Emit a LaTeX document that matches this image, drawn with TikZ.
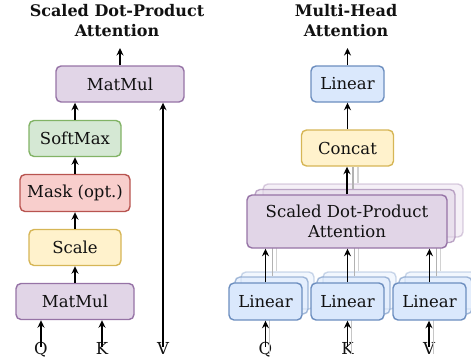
\documentclass[tikz,border=0pt]{standalone}
\usepackage{fontspec}
\setmainfont{DejaVu Serif}
\usetikzlibrary{arrows.meta}
\definecolor{pf}{HTML}{E1D5E7}\definecolor{pd}{HTML}{9673A6}
\definecolor{gf}{HTML}{D5E8D4}\definecolor{gd}{HTML}{82B366}
\definecolor{rf}{HTML}{F8CECC}\definecolor{rd}{HTML}{B85450}
\definecolor{yf}{HTML}{FFF2CC}\definecolor{yd}{HTML}{D6B656}
\definecolor{bf}{HTML}{DAE8FC}\definecolor{bd}{HTML}{6C8EBF}
\definecolor{txt}{HTML}{111111}
\begin{document}
\begin{tikzpicture}[x=1pt,y=-1pt,
  box/.style={draw, rounded corners=5pt, line width=1.4pt, minimum height=36pt,
    inner sep=0pt, align=center, text=txt, font=\fontsize{16.5}{20}\selectfont},
  purp/.style={box, fill=pf, draw=pd},
  grn/.style={box, fill=gf, draw=gd},
  red/.style={box, fill=rf, draw=rd},
  yel/.style={box, fill=yf, draw=yd},
  blu/.style={box, fill=bf, draw=bd},
  ghost1/.style={opacity=0.6},
  ghost2/.style={opacity=0.35},
  lbl/.style={inner sep=0pt, anchor=base, text height=12pt, text depth=0pt, text=txt, font=\fontsize{16.5}{20}\selectfont},
  ttl/.style={inner sep=0pt, align=center, text=txt, font=\fontsize{16}{20}\selectfont\bfseries},
  arr/.style={-{Stealth[length=7.5pt,width=7pt]}, line width=1.7pt, draw=black},
  garr/.style={line width=1.3pt, draw=gray!60},
  garr2/.style={line width=1.3pt, draw=gray!35},
  gin/.style={-{Stealth[length=5pt,width=4.5pt]}, line width=1pt, draw=gray!45},
]
\useasboundingbox (0,0) rectangle (471,360);

% ---------------- Left: Scaled Dot-Product Attention ----------------
\node[ttl] (tL) at (117,21) {Scaled Dot-Product\\Attention};
\node[purp, minimum width=128pt] (mm2) at (120,84) {MatMul};
\node[grn, minimum width=92pt] (soft) at (75,138.5) {SoftMax};
\node[red, minimum width=110pt, minimum height=37pt] (mask) at (75,193) {Mask (opt.)};
\node[yel, minimum width=92pt] (scale) at (75,247.5) {Scale};
\node[purp, minimum width=118pt] (mm1) at (75,301.5) {MatMul};
\node[lbl] (qL) at (41,354) {Q};
\node[lbl] (kL) at (102,354) {K};
\node[lbl] (vL) at (163,354) {V};
\coordinate (outL) at (120,48);

\draw[arr] (mm2.north) -- (outL);
\draw[arr] (soft.north) -- (soft.north |- mm2.south);
\draw[arr] (mask.north) -- (soft.south);
\draw[arr] (scale.north) -- (mask.south);
\draw[arr] (mm1.north) -- (scale.south);
\draw[arr] ([yshift=-5pt]qL.north) -- (qL.north |- mm1.south);
\draw[arr] ([yshift=-5pt]kL.north) -- (kL.north |- mm1.south);
\draw[arr] ([yshift=-5pt]vL.north) -- (vL.north |- mm2.south);

% ---------------- Right: Multi-Head Attention ----------------
\node[ttl] (tR) at (346,21) {Multi-Head\\Attention};
\node[blu, minimum width=73pt] (linT) at (347.5,84) {Linear};
\node[yel, minimum width=92pt] (concat) at (347.5,148) {Concat};
\coordinate (outR) at (347.5,48);

% linear copies
\foreach \n/\x in {Q/265.5,K/347.5,V/429.5}{
  \node[blu, ghost2, minimum width=73pt, minimum height=37pt] (l\n c2) at (\x+12,290.5) {};
  \node[blu, ghost1, minimum width=73pt, minimum height=37pt] (l\n c1) at (\x+6,295.5) {};
}
% attention copies
\node[purp, ghost2, minimum width=200pt, minimum height=53pt] (sdc2) at (363,210.5) {};
\node[purp, ghost1, minimum width=200pt, minimum height=53pt] (sdc1) at (355,216) {};

% gray arrows behind the front boxes
\foreach \n in {Q,K,V}{
  \draw[garr] ([xshift=1pt]l\n c1.north) -- ([xshift=1pt]l\n c1.north |- sdc1.south);
  \draw[garr2] ([xshift=-1pt]l\n c2.north) -- ([xshift=-1pt]l\n c2.north |- sdc2.south);
}
\draw[garr] ([xshift=-2pt]sdc1.north) -- ([xshift=-2pt]sdc1.north |- concat.south);
\draw[garr2] ([xshift=-5pt]sdc2.north) -- ([xshift=-5pt]sdc2.north |- concat.south);

\node[purp, minimum width=200pt, minimum height=53pt] (sdpa) at (347,221.5) {Scaled Dot-Product\\Attention};

\node[lbl] (qR) at (265.5,354) {Q};
\node[lbl] (kR) at (347.5,354) {K};
\node[lbl] (vR) at (429,354) {V};
\foreach \n/\m in {Q/qR,K/kR,V/vR}{
  \draw[gin] ([xshift=4pt,yshift=-12pt]\m.north) -- ([xshift=4pt]\m.north |- l\n c1.south);
}
\foreach \n/\x in {Q/265.5,K/347.5,V/429.5}{
  \node[blu, minimum width=73pt, minimum height=37pt] (l\n) at (\x,301.5) {Linear};
}

\draw[arr] (linT.north) -- (outR);
\draw[arr] (concat.north) -- (linT.south);
\draw[arr] (sdpa.north) -- (sdpa.north |- concat.south);
\foreach \n/\m in {Q/qR,K/kR,V/vR}{
  \draw[arr] (l\n.north) -- (l\n.north |- sdpa.south);
  \draw[arr] ([yshift=-5pt]\m.north) -- (\m.north |- l\n.south);
}
\end{tikzpicture}
\end{document}
